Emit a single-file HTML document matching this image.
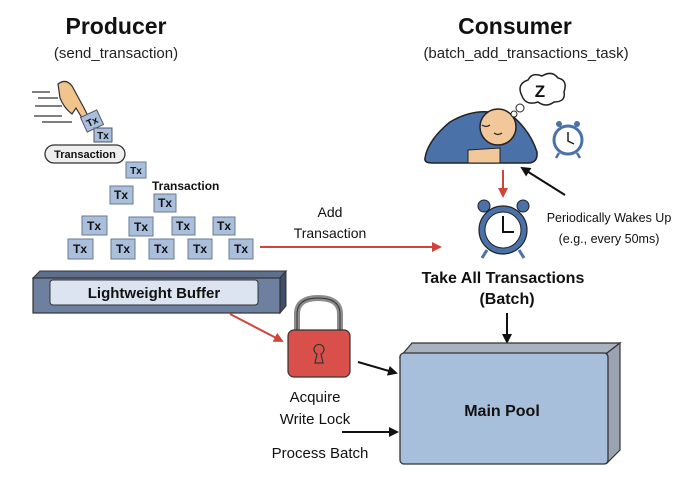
<!DOCTYPE html>
<html><head><meta charset="utf-8"><style>
html,body{margin:0;padding:0;background:#fff;}
svg{display:block;font-family:"Liberation Sans",sans-serif;}
</style></head><body>
<svg width="680" height="500" viewBox="0 0 680 500">
<defs>
<marker id="ar" markerWidth="10" markerHeight="10" refX="8" refY="5" orient="auto" markerUnits="userSpaceOnUse"><path d="M0,0 L10,5 L0,10 z" fill="#d0443a"/></marker>
<marker id="ab" markerWidth="10" markerHeight="10" refX="8" refY="5" orient="auto" markerUnits="userSpaceOnUse"><path d="M0,0 L10,5 L0,10 z" fill="#111"/></marker>
</defs>
<rect width="680" height="500" fill="#fff"/>
<!-- titles -->
<text x="116" y="34" text-anchor="middle" font-size="23" font-weight="bold" fill="#111">Producer</text>
<text x="116" y="58" text-anchor="middle" font-size="15" fill="#222">(send_transaction)</text>
<text x="515" y="34" text-anchor="middle" font-size="23" font-weight="bold" fill="#111">Consumer</text>
<text x="526" y="58" text-anchor="middle" font-size="15" fill="#222">(batch_add_transactions_task)</text>

<!-- hand & speed lines -->
<g stroke="#555" stroke-width="1.5">
<line x1="32" y1="92" x2="50" y2="92"/><line x1="38" y1="98" x2="58" y2="98"/><line x1="35" y1="106" x2="62" y2="106"/><line x1="34" y1="116" x2="62" y2="116"/><line x1="42" y1="122" x2="72" y2="122"/>
</g>
<path d="M58,84 Q66,78 72,86 L84,108 L88,116 L82,118 L76,108 L72,114 Q64,108 60,98 Z" fill="#f1c48d" stroke="#333" stroke-width="1.2"/>
<g font-size="10" font-weight="bold" text-anchor="middle" fill="#111">
<g transform="rotate(-25 92 121)"><rect x="83" y="113" width="18" height="16" fill="#a9bfdc" stroke="#556" stroke-width="1"/><text x="92" y="125">Tx</text></g>
<rect x="94" y="128" width="18" height="14" fill="#a9bfdc" stroke="#556"/><text x="103" y="139">Tx</text>
</g>
<rect x="45" y="145" width="80" height="18" rx="9" fill="#eee" stroke="#333" stroke-width="1.3"/>
<text x="85" y="158" text-anchor="middle" font-size="11" font-weight="bold" fill="#111">Transaction</text>
<text x="152" y="190" font-size="12" font-weight="bold" fill="#111">Transaction</text>
<g font-weight="bold" text-anchor="middle" fill="#111" stroke="#6a7a90" stroke-width="1">
<rect x="126" y="162" width="20" height="16" fill="#a9bfdc"/>
<rect x="110" y="186" width="23" height="18" fill="#a9bfdc"/>
<rect x="154" y="194" width="22" height="18" fill="#a9bfdc"/>
<rect x="82" y="216" width="25" height="19" fill="#a9bfdc"/>
<rect x="129" y="217" width="24" height="19" fill="#a9bfdc"/>
<rect x="172" y="217" width="23" height="18" fill="#a9bfdc"/>
<rect x="213" y="217" width="22" height="18" fill="#a9bfdc"/>
<rect x="68" y="239" width="25" height="20" fill="#a9bfdc"/>
<rect x="111" y="239" width="24" height="20" fill="#a9bfdc"/>
<rect x="149" y="239" width="25" height="20" fill="#a9bfdc"/>
<rect x="188" y="239" width="24" height="20" fill="#a9bfdc"/>
<rect x="229" y="239" width="24" height="20" fill="#a9bfdc"/>
</g>
<g font-weight="bold" text-anchor="middle" fill="#111" font-size="12">
<text x="136" y="174" font-size="10">Tx</text>
<text x="121" y="199">Tx</text>
<text x="165" y="207">Tx</text>
<text x="94" y="230">Tx</text><text x="141" y="231">Tx</text><text x="183" y="230">Tx</text><text x="224" y="230">Tx</text>
<text x="80" y="253">Tx</text><text x="123" y="253">Tx</text><text x="161" y="253">Tx</text><text x="200" y="253">Tx</text><text x="241" y="253">Tx</text>
</g>
<!-- buffer -->
<polygon points="33,278 40,271 286,271 280,278" fill="#5d6f8c" stroke="#333" stroke-width="1"/>
<polygon points="280,278 286,271 286,306 280,313" fill="#3f4f68" stroke="#333" stroke-width="1"/>
<rect x="33" y="278" width="247" height="35" fill="#6d80a0" stroke="#333" stroke-width="1.2"/>
<rect x="50" y="280" width="208" height="25" rx="3" fill="#dbe4f0" stroke="#333" stroke-width="1"/>
<text x="154" y="298" text-anchor="middle" font-size="15" font-weight="bold" fill="#111">Lightweight Buffer</text>

<!-- add transaction -->
<line x1="260" y1="247" x2="440" y2="247" stroke="#d0443a" stroke-width="2" marker-end="url(#ar)"/>
<text x="330" y="217" text-anchor="middle" font-size="14" fill="#111">Add</text>
<text x="330" y="238" text-anchor="middle" font-size="14" fill="#111">Transaction</text>

<!-- sleeping person -->
<path d="M425,158 Q428,140 450,122 Q470,110 490,112 L510,114 Q530,130 537,152 Q538,163 528,163 L432,163 Q424,163 425,158 Z" fill="#4a72a8" stroke="#222" stroke-width="1.5"/>
<path d="M468,150 L500,148 L500,163 L468,163 Z" fill="#f2c89a" stroke="#222" stroke-width="1"/>
<circle cx="498" cy="127" r="18" fill="#f2c89a" stroke="#222" stroke-width="1.5"/>
<path d="M482,125 q4,3 8,0 M494,133 q4,3 8,0" stroke="#222" fill="none" stroke-width="1.2"/>
<circle cx="514" cy="114" r="3" fill="#fff" stroke="#222"/>
<circle cx="520" cy="108" r="4" fill="#fff" stroke="#222"/>
<path d="M522,96 Q516,84 528,80 Q532,72 542,76 Q552,70 558,78 Q568,80 564,92 Q566,102 554,102 Q546,108 538,102 Q526,106 522,96 Z" fill="#fff" stroke="#222" stroke-width="1.5"/>
<text x="540" y="97" text-anchor="middle" font-size="17" font-weight="bold" fill="#111">Z</text>
<!-- small clock -->
<circle cx="568" cy="140" r="14" fill="#fff" stroke="#4a72a8" stroke-width="3"/>
<path d="M568,132 L568,141 L574,144" stroke="#222" fill="none" stroke-width="1.5"/>
<circle cx="559" cy="124" r="3" fill="#4a72a8"/><circle cx="577" cy="124" r="3" fill="#4a72a8"/>
<line x1="559" y1="153" x2="556" y2="158" stroke="#4a72a8" stroke-width="2.5"/><line x1="577" y1="153" x2="580" y2="158" stroke="#4a72a8" stroke-width="2.5"/>

<line x1="503" y1="170" x2="503" y2="196" stroke="#d0443a" stroke-width="2" marker-end="url(#ar)"/>
<line x1="565" y1="195" x2="522" y2="168" stroke="#111" stroke-width="2" marker-end="url(#ab)"/>

<!-- big clock -->
<circle cx="484" cy="206" r="6" fill="#4a72a8" stroke="#222"/><circle cx="523" cy="206" r="6" fill="#4a72a8" stroke="#222"/>
<circle cx="503" cy="230" r="24" fill="#4a72a8" stroke="#222" stroke-width="1.2"/>
<circle cx="503" cy="230" r="18" fill="#fff" stroke="#222" stroke-width="1"/>
<path d="M503,216 L503,232 L514,232" stroke="#111" fill="none" stroke-width="2"/>
<line x1="487" y1="250" x2="482" y2="258" stroke="#4a72a8" stroke-width="3"/><line x1="519" y1="250" x2="524" y2="258" stroke="#4a72a8" stroke-width="3"/>
<text x="609" y="222" text-anchor="middle" font-size="12.5" fill="#111">Periodically Wakes Up</text>
<text x="609" y="243" text-anchor="middle" font-size="12.5" fill="#111">(e.g., every 50ms)</text>
<text x="503" y="283" text-anchor="middle" font-size="16" font-weight="bold" fill="#111">Take All Transactions</text>
<text x="507" y="304" text-anchor="middle" font-size="16" font-weight="bold" fill="#111">(Batch)</text>
<line x1="507" y1="313" x2="507" y2="342" stroke="#111" stroke-width="2" marker-end="url(#ab)"/>

<!-- main pool -->
<polygon points="400,357 412,343 620,343 607,353" fill="#a9b3bf" stroke="#333" stroke-width="1.2"/>
<polygon points="607,353 620,343 620,450 607,463" fill="#9aa4b0" stroke="#333" stroke-width="1.2"/>
<rect x="400" y="353" width="208" height="111" rx="4" fill="#a8bfdc" stroke="#333" stroke-width="1.3"/>
<text x="502" y="416" text-anchor="middle" font-size="16" font-weight="bold" fill="#111">Main Pool</text>

<!-- lock -->
<line x1="230" y1="314" x2="282" y2="341" stroke="#d0443a" stroke-width="2" marker-end="url(#ar)"/>
<path d="M297,332 L297,314 Q297,298 318,298 Q340,298 340,314 L340,332" fill="none" stroke="#8c8c8c" stroke-width="6"/>
<path d="M297,332 L297,314 Q297,298 318,298 Q340,298 340,314 L340,332" fill="none" stroke="#333" stroke-width="1" transform="translate(0,0)"/>
<rect x="288" y="330" width="62" height="47" rx="6" fill="#d9504a" stroke="#333" stroke-width="1.2"/>
<path d="M315,363 L317,354 A5,5 0 1 1 321,354 L323,363 Z" fill="none" stroke="#333" stroke-width="1.2"/>
<line x1="358" y1="362" x2="396" y2="373" stroke="#111" stroke-width="2" marker-end="url(#ab)"/>
<line x1="342" y1="432" x2="397" y2="432" stroke="#111" stroke-width="2" marker-end="url(#ab)"/>
<text x="315" y="402" text-anchor="middle" font-size="15" fill="#111">Acquire</text>
<text x="315" y="424" text-anchor="middle" font-size="15" fill="#111">Write Lock</text>
<text x="320" y="458" text-anchor="middle" font-size="15" fill="#111">Process Batch</text>
</svg>
</body></html>
